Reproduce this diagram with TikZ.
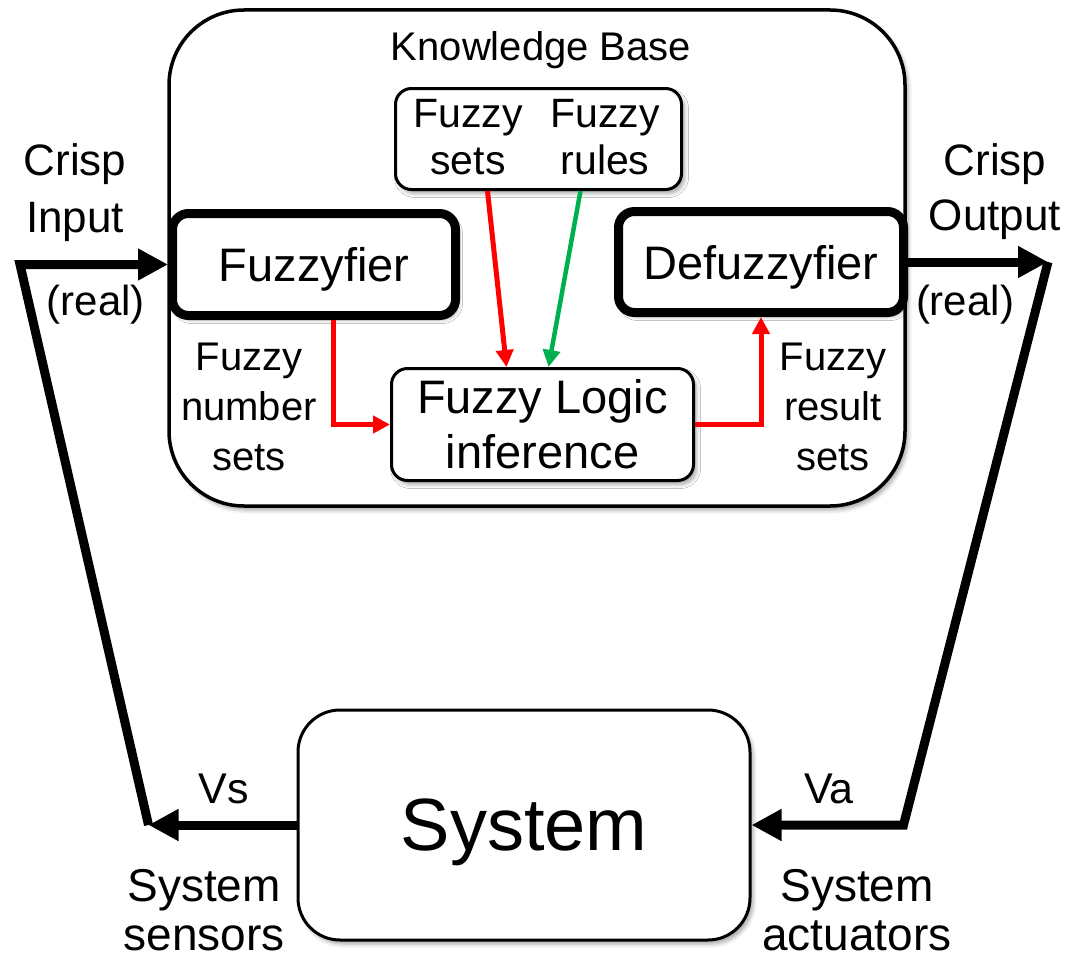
\documentclass[tikz,border=0pt]{standalone}
\usepackage{fontspec}
\setmainfont{Liberation Sans}
\usetikzlibrary{arrows.meta,shadows.blur,calc}

\begin{document}
\begin{tikzpicture}[x=1pt,y=-1pt,
  box/.style={draw, line width=3pt, rounded corners=#1, fill=white, inner sep=0pt,
    blur shadow={shadow xshift=3pt, shadow yshift=-4pt, shadow blur radius=4pt, shadow opacity=35}},
  box/.default=16pt,
  heavybox/.style={box=16pt, line width=9pt},
  lbl/.style={inner sep=0pt, align=center},
  bigarrow/.style={line width=9pt, line join=miter, -{Triangle[length=30pt,width=30pt]}},
  redarrow/.style={draw=red, line width=5pt, -{Triangle[length=17pt,width=17pt]}},
  greenarrow/.style={draw={rgb,255:red,0;green,176;blue,80}, line width=4.5pt, -{Triangle[length=17pt,width=17pt]}}
]
\useasboundingbox (0,0) rectangle (1068,966);

% knowledge base frame
\node[box=75pt, line width=3.5pt, minimum width=736pt, minimum height=496pt] (kb) at (537,258) {};
\node[lbl, anchor=base, font=\fontsize{40pt}{48pt}\selectfont] (kbtitle) at (541,60) {Knowledge Base};

% fuzzy sets and rules store
\node[box, minimum width=286pt, minimum height=101pt] (store) at (538.5,139) {};
\node[lbl, anchor=north, font=\fontsize{41pt}{47pt}\selectfont] (fsets) at (468,99) {Fuzzy\\sets};
\node[lbl, anchor=north, font=\fontsize{41pt}{47pt}\selectfont] (frules) at (605,99) {Fuzzy\\rules};

% processing blocks
\node[heavybox, minimum width=283pt, minimum height=102pt, text depth=0pt,
  font=\fontsize{47pt}{55pt}\selectfont] (fuzz) at (314,264.5) {Fuzzyfier};
\node[heavybox, minimum width=285pt, minimum height=101pt, text depth=0pt,
  font=\fontsize{47pt}{55pt}\selectfont] (defuzz) at (761,262) {Defuzzyfier};
\node[box, minimum width=302pt, minimum height=112pt, align=center,
  font=\fontsize{47pt}{55pt}\selectfont] (fli) at (542.5,424.5) {Fuzzy Logic\\inference};
\node[box=42pt, minimum width=452pt, minimum height=230pt, text depth=0pt,
  font=\fontsize{74pt}{80pt}\selectfont] (sys) at (524,825) {System};

% side labels
\node[lbl, anchor=north, font=\fontsize{44pt}{57pt}\selectfont] (cin) at (75,143) {Crisp\\Input};
\node[lbl, anchor=base, font=\fontsize{42pt}{50pt}\selectfont] (rin) at (96,315) {(real)};
\node[lbl, anchor=north, font=\fontsize{44pt}{55pt}\selectfont] (cout) at (995,143) {Crisp\\Output};
\node[lbl, anchor=base, font=\fontsize{42pt}{50pt}\selectfont] (rout) at (965,315) {(real)};
\node[lbl, anchor=north, font=\fontsize{40pt}{50pt}\selectfont] (fns) at (249,343) {Fuzzy\\number\\sets};
\node[lbl, anchor=north, font=\fontsize{40pt}{50pt}\selectfont] (frs) at (833,343) {Fuzzy\\result\\sets};
\node[lbl, anchor=base, font=\fontsize{43pt}{50pt}\selectfont] (vs) at (224,803) {Vs};
\node[lbl, anchor=base, font=\fontsize{43pt}{50pt}\selectfont] (va) at (829,803) {Va};
\node[lbl, anchor=north, font=\fontsize{46pt}{49pt}\selectfont] (sens) at (204,869) {System\\sensors};
\node[lbl, anchor=north, font=\fontsize{46pt}{49pt}\selectfont] (act) at (857,869) {System\\actuators};

% loop corners
\coordinate (lc) at ($(sys.west)+(-148,0)$);
\coordinate (ltc) at ($(fuzz.west)+(-148,0)$);
\coordinate (rtc) at ($(defuzz.east)+(140,0)$);
\coordinate (rbc) at ($(sys.east)+(152,0)$);

% feedback loop
\draw[bigarrow] (sys.west) -- (lc);
\draw[bigarrow] (lc) -- (ltc) -- (fuzz.west);
\draw[bigarrow] (defuzz.east) -- (rtc);
\draw[bigarrow] (rtc) -- (rbc) -- (sys.east);

% internal flows
\draw[redarrow] ($(fuzz.south)+(19,0)$) |- (fli.west);
\draw[redarrow] (fli.east) -| (defuzz.south);
\draw[redarrow] ($(store.south)+(-51,0)$) -- ($(fli.north)+(-36,0)$);
\draw[greenarrow] ($(store.south)+(42,0)$) -- ($(fli.north)+(6,0)$);
\end{tikzpicture}
\end{document}
